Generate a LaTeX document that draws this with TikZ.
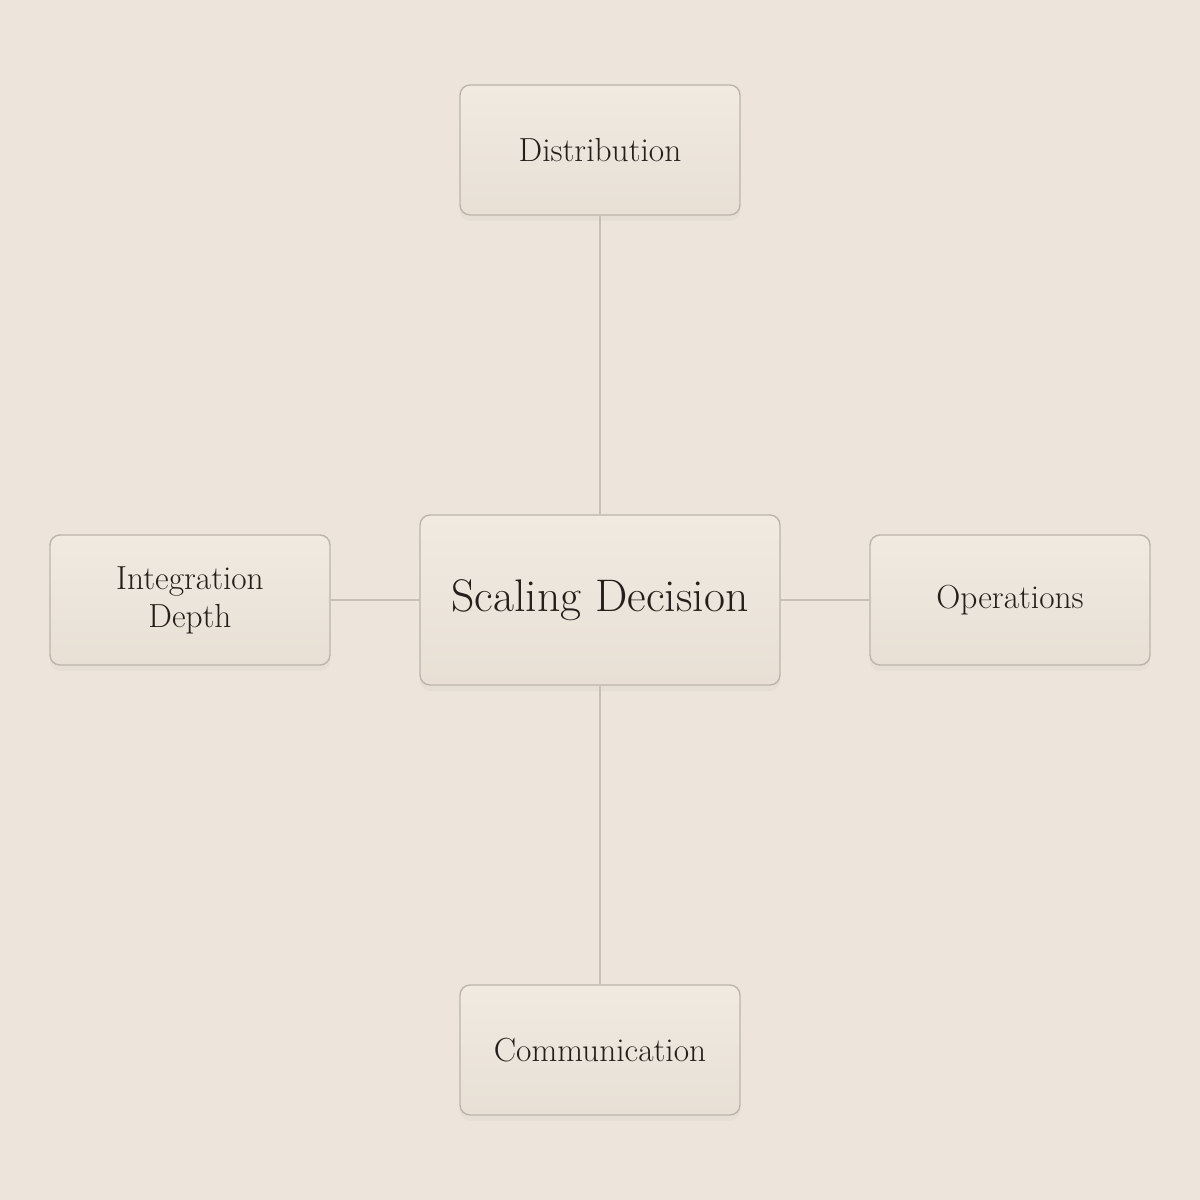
\documentclass[tikz,border=0pt]{standalone}
\usetikzlibrary{shadows}
\definecolor{paper}{HTML}{EDE5DC}
\definecolor{boxtop}{HTML}{F0EAE1}
\definecolor{boxbot}{HTML}{E8E0D5}
\definecolor{boxline}{HTML}{BDB5AA}
\definecolor{wire}{HTML}{C8C0B6}
\definecolor{ink}{HTML}{241F1A}
\tikzset{
  topic/.style={draw=boxline, line width=0.8pt, rounded corners=0.2cm,
    top color=boxtop, bottom color=boxbot, text=ink, align=center,
    minimum width=5.6cm, minimum height=2.6cm, inner sep=0pt,
    drop shadow={opacity=0.06, shadow xshift=0pt, shadow yshift=-0.12cm},
    font=\fontsize{19}{21.5}\selectfont},
  hub/.style={topic, minimum width=7.2cm, minimum height=3.4cm,
    font=\fontsize{26}{30}\selectfont},
  wire/.style={draw=wire, line width=0.9pt}
}
\begin{document}
\begin{tikzpicture}
\fill[paper] (0,0) rectangle (24,24);
\useasboundingbox (0,0) rectangle (24,24);

% centre and the four topics
\node[hub] (S) at (12,12) {Scaling Decision};
\node[topic] (D) at (12,21) {Distribution};
\node[topic] (I) at (3.8,12) {Integration\\Depth};
\node[topic] (O) at (20.2,12) {Operations};
\node[topic] (C) at (12,3) {Communication};

\draw[wire] (S)--(D);
\draw[wire] (S)--(I);
\draw[wire] (S)--(O);
\draw[wire] (S)--(C);

\end{tikzpicture}
\end{document}
